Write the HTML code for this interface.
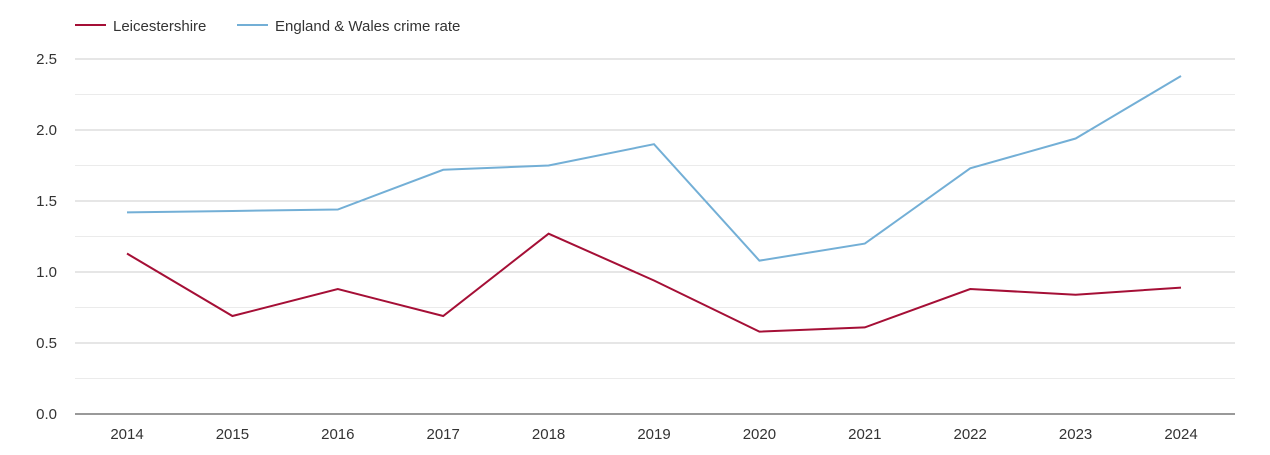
<!DOCTYPE html>
<html><head><meta charset="utf-8"><style>
body{margin:0;background:#fff;font-family:"Liberation Sans",sans-serif;}
svg text{font-family:"Liberation Sans",sans-serif;}
</style></head><body>
<svg id="chart" width="1270" height="450">
<g>
<line x1="75" y1="25" x2="106" y2="25" stroke="#a50f36" stroke-width="2"/>
<text x="113" y="31" font-size="15" fill="#333">Leicestershire</text>
<line x1="237" y1="25" x2="268" y2="25" stroke="#73afd6" stroke-width="2"/>
<text x="275" y="31" font-size="15" fill="#333">England &amp; Wales crime rate</text>
</g>
<g id="grid"></g><g id="axes"></g><g id="series"></g>
</svg>
<script>
const years=["2014","2015","2016","2017","2018","2019","2020","2021","2022","2023","2024"];
const leicestershire=[1.13,0.69,0.88,0.69,1.27,0.94,0.58,0.61,0.88,0.84,0.89];
const englandWales=[1.42,1.43,1.44,1.72,1.75,1.90,1.08,1.20,1.73,1.94,2.38];
const yTicks=["0.0","0.5","1.0","1.5","2.0","2.5"];
const NS="http://www.w3.org/2000/svg";
const L=75,R=1235,Y0=414,Ymax=2.5,Ytop=59;
const x=i=>127+i*(1181-127)/(years.length-1);
const y=v=>Y0-(v/Ymax)*(Y0-Ytop);
const grid=document.getElementById('grid'),axes=document.getElementById('axes'),series=document.getElementById('series');
for(let k=1;k<=10;k++){const v=k*0.25;const ln=document.createElementNS(NS,'line');
ln.setAttribute('x1',L);ln.setAttribute('x2',R);ln.setAttribute('y1',y(v));ln.setAttribute('y2',y(v));
ln.setAttribute('stroke',k%2?'#ebebeb':'#cccccc');ln.setAttribute('stroke-width','1');


grid.appendChild(ln);}
yTicks.forEach(t=>{const tx=document.createElementNS(NS,'text');tx.setAttribute('x',57);tx.setAttribute('y',y(parseFloat(t))+5);
tx.setAttribute('text-anchor','end');tx.setAttribute('font-size','15');tx.setAttribute('fill','#333');tx.textContent=t;


axes.appendChild(tx);});
const base=document.createElementNS(NS,'line');base.setAttribute('x1',L);base.setAttribute('x2',R);base.setAttribute('y1',Y0);base.setAttribute('y2',Y0);base.setAttribute('stroke','#333');


axes.appendChild(base);
years.forEach((yr,i)=>{const tx=document.createElementNS(NS,'text');tx.setAttribute('x',x(i));tx.setAttribute('y',439);
tx.setAttribute('text-anchor','middle');tx.setAttribute('font-size','15');tx.setAttribute('fill','#333');tx.textContent=yr;


axes.appendChild(tx);});
function line(vals,color,name){const p=document.createElementNS(NS,'polyline');
p.setAttribute('points',vals.map((v,i)=>x(i)+','+y(v)).join(' '));p.setAttribute('fill','none');p.setAttribute('stroke',color);p.setAttribute('stroke-width','2');


series.appendChild(p);}
line(englandWales,'#73afd6','england-wales-line');
line(leicestershire,'#a50f36','leicestershire-line');
</script>
</body></html>
